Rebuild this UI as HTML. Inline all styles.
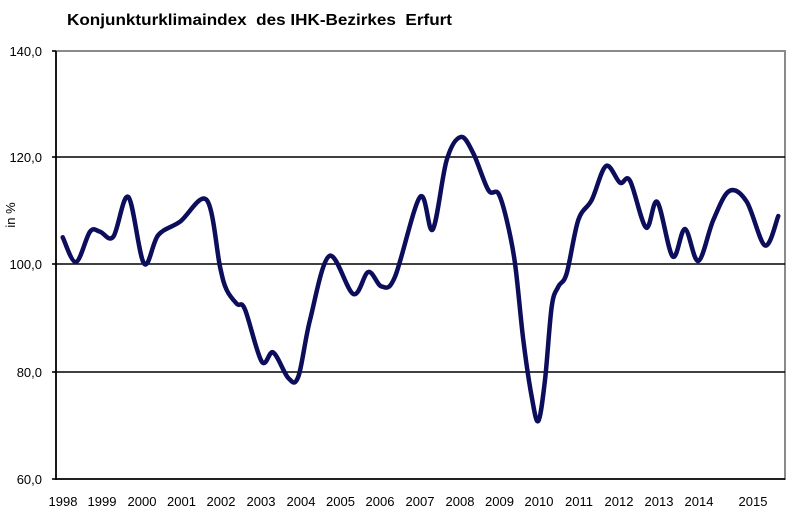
<!DOCTYPE html>
<html>
<head>
<meta charset="utf-8">
<style>
  html, body { margin: 0; padding: 0; background: #fff; }
  svg { display: block; }
  text { font-family: "Liberation Sans", Arial, sans-serif; fill: #000; }
</style>
</head>
<body>
<svg width="800" height="513" viewBox="0 0 800 513" xmlns="http://www.w3.org/2000/svg">
  <rect x="0" y="0" width="800" height="513" fill="#fff"/>
  <!-- title -->
  <text x="67" y="25" font-size="16" font-weight="bold" textLength="385" lengthAdjust="spacingAndGlyphs" xml:space="preserve">Konjunkturklimaindex  des IHK-Bezirkes  Erfurt</text>

  <!-- plot frame -->
  <line x1="56" y1="51" x2="786" y2="51" stroke="#8a8a8a" stroke-width="2"/>
  <line x1="785" y1="51" x2="785" y2="480" stroke="#8a8a8a" stroke-width="2"/>
  <line x1="56" y1="157" x2="785" y2="157" stroke="#000" stroke-width="1.6"/>
  <line x1="56" y1="264" x2="785" y2="264" stroke="#000" stroke-width="1.6"/>
  <line x1="56" y1="372" x2="785" y2="372" stroke="#000" stroke-width="1.6"/>
  <line x1="56" y1="479" x2="785" y2="479" stroke="#000" stroke-width="1.8"/>
  <line x1="56" y1="51" x2="56" y2="480" stroke="#000" stroke-width="1.8"/>
  <!-- y ticks -->
  <g stroke="#000" stroke-width="1.6">
    <line x1="52" y1="51" x2="56" y2="51"/>
    <line x1="52" y1="157" x2="56" y2="157"/>
    <line x1="52" y1="264" x2="56" y2="264"/>
    <line x1="52" y1="372" x2="56" y2="372"/>
    <line x1="52" y1="479" x2="56" y2="479"/>
  </g>
  <!-- y labels -->
  <g font-size="13" text-anchor="end">
    <text x="42" y="56">140,0</text>
    <text x="42" y="162">120,0</text>
    <text x="42" y="269">100,0</text>
    <text x="42" y="377">80,0</text>
    <text x="42" y="484">60,0</text>
  </g>
  <text x="0" y="0" font-size="13" text-anchor="middle" transform="translate(15,215) rotate(-90)">in %</text>

  <!-- x labels -->
  <g font-size="13" text-anchor="middle">
    <text x="63" y="506">1998</text>
    <text x="102" y="506">1999</text>
    <text x="142" y="506">2000</text>
    <text x="181.5" y="506">2001</text>
    <text x="221" y="506">2002</text>
    <text x="261" y="506">2003</text>
    <text x="301" y="506">2004</text>
    <text x="340.5" y="506">2005</text>
    <text x="380" y="506">2006</text>
    <text x="420" y="506">2007</text>
    <text x="460" y="506">2008</text>
    <text x="499.5" y="506">2009</text>
    <text x="539" y="506">2010</text>
    <text x="579" y="506">2011</text>
    <text x="619" y="506">2012</text>
    <text x="659" y="506">2013</text>
    <text x="699" y="506">2014</text>
    <text x="753" y="506">2015</text>
  </g>

  <!-- series -->
  <polyline id="series" fill="none" stroke="#0c0e5c" stroke-width="4.5" stroke-linejoin="round" stroke-linecap="round"
    points="62.7,237.3 76,262 90,231.7 100,231.7 113.3,236.7 128.3,197 144,263.5 158.3,235 180,221.7 206.7,200 220,266.7 226.7,290 237,304 245,309.5 261.7,361.5 273.3,352.5 288.3,378 298.3,376.7 310,320 329.3,256 353.3,294 368.3,272 381.7,286.5 395,276.7 420,197 432.7,229.5 446.7,160 460.7,137 473.3,153.3 488.3,190 498.3,193.3 506.7,220 515,263.3 523.3,340 531.7,396.7 538.3,421 545,380 551.7,306.7 558.3,286.7 566.7,273.3 578.3,220 591.7,200 606,166 620,182.7 630,180.7 646,227.5 657.3,202 672.7,256.5 685,229 698.3,261 713.3,220 729.3,191 746.7,201.7 765,245.5 778.3,216"/>
  <path id="smooth" fill="none" stroke="#0c0e5c" stroke-width="4.5" stroke-linejoin="round" stroke-linecap="round" d=""/>
</svg>
<script>
(function(){
  var pl = document.getElementById('series');
  var pts = pl.getAttribute('points').trim().split(/\s+/).map(function(s){var a=s.split(',');return [parseFloat(a[0]),parseFloat(a[1])];});
  var d = 'M' + pts[0][0] + ',' + pts[0][1];
  var t = 0.5;
  for (var i = 0; i < pts.length - 1; i++) {
    var p0 = pts[i-1] || pts[i], p1 = pts[i], p2 = pts[i+1], p3 = pts[i+2] || pts[i+1];
    var c1x = p1[0] + (p2[0]-p0[0]) * t / 3, c1y = p1[1] + (p2[1]-p0[1]) * t / 3;
    var c2x = p2[0] - (p3[0]-p1[0]) * t / 3, c2y = p2[1] - (p3[1]-p1[1]) * t / 3;
    d += ' C' + c1x.toFixed(2) + ',' + c1y.toFixed(2) + ' ' + c2x.toFixed(2) + ',' + c2y.toFixed(2) + ' ' + p2[0] + ',' + p2[1];
  }
  document.getElementById('smooth').setAttribute('d', d);
  pl.setAttribute('stroke', 'none');
})();
</script>
</body>
</html>
